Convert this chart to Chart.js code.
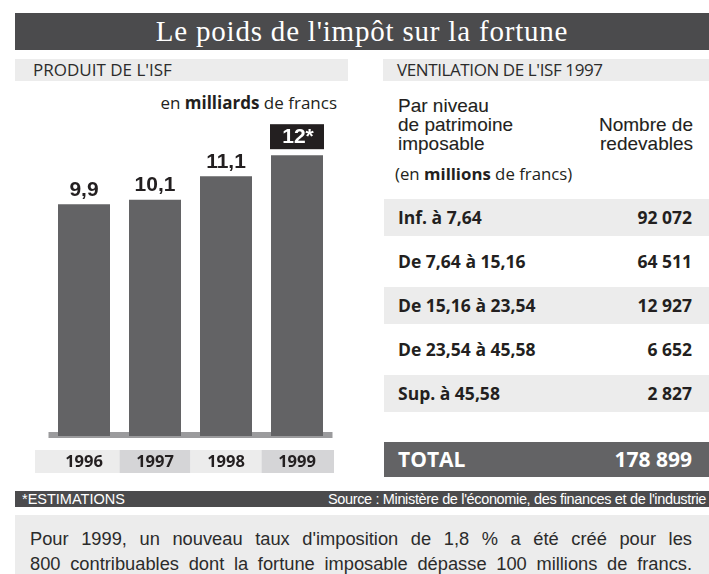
<!DOCTYPE html>
<html lang="fr">
<head>
    <meta charset="UTF-8">
    <title>Le poids de l'impôt sur la fortune</title>
    <script src="https://cdn.jsdelivr.net/npm/chart.js"></script>
    <style>
        body { margin: 0; width: 709px; height: 574px; position: relative; overflow: hidden; background: #fff; color: #231f20; }
        .abs { position: absolute; }
        #titre { left: 15px; top: 13px; width: 694px; height: 37px; background: #4b4b4d; color: #fff;
                 font: 29px "Liberation Serif", serif; letter-spacing: 0.8px; text-align: center; line-height: 37px; }
        .sous { top: 59px; height: 22px; background: #ececec; font: 17px "Open Sans", sans-serif; line-height: 22px; color: #2b2b2b; }
        #unite { right: 372px; top: 91px; font: 17px "Open Sans", sans-serif; }
        .entete { font: 19px "Liberation Sans", sans-serif; line-height: 19px; -webkit-text-stroke: 0.1px #231f20; }
        .ligne { left: 384px; width: 325px; height: 37px; font: bold 17.5px "Open Sans", sans-serif; line-height: 37px; }
        .ligne span.n { position: absolute; right: 17px; }
        .ligne span.t { position: absolute; left: 14px; }
        #total { background: #636365; color: #fff; font-size: 21px; height: 35px; line-height: 35px; }
        #bande { left: 15px; top: 491px; width: 694px; height: 16px; background: #4b4b4d; color: #fff;
                 font: 14.5px "Liberation Sans Narrow", "Liberation Sans", sans-serif; line-height: 17px; }
        #note { left: 15px; top: 515px; width: 694px; height: 59px; background: #ececec; color: #2b2b2b;
                font: 18.3px "Liberation Sans", sans-serif; }
        #note div { position: absolute; left: 15px; width: 662px; text-align: justify; text-align-last: justify; white-space: nowrap; }
    </style>
</head>
<body>
    <div id="titre" class="abs">Le poids de l'impôt sur la fortune</div>
    <div class="abs sous" style="left:15px;width:333px"><span style="margin-left:18px">PRODUIT DE L'ISF</span></div>
    <div class="abs sous" style="left:383px;width:326px"><span style="margin-left:14px;letter-spacing:-0.4px">VENTILATION DE L'ISF 1997</span></div>
    <div id="unite" class="abs">en <b>milliards</b> de francs</div>

    <div class="abs entete" style="left:398px;top:96px">Par niveau<br>de patrimoine<br>imposable</div>
    <div class="abs entete" style="right:16px;top:115px;text-align:right">Nombre de<br>redevables</div>
    <div class="abs" style="left:395px;top:162px;font:16.8px 'Open Sans',sans-serif">(en <b>millions</b> de francs)</div>
    <div id="tableau"></div>

    <div id="bande" class="abs"><span style="position:absolute;left:7px">*ESTIMATIONS</span><span style="position:absolute;right:3px;letter-spacing:-0.35px">Source : Ministère de l'économie, des finances et de l'industrie</span></div>
    <div id="note" class="abs">
        <div style="top:13px">Pour 1999, un nouveau taux d'imposition de 1,8 % a été créé pour les</div>
        <div style="top:38px">800 contribuables dont la fortune imposable dépasse 100 millions de francs.</div>
    </div>

    <div class="abs" style="left:0;top:0;width:360px;height:574px">
        <canvas id="isfChart" width="360" height="574"></canvas>
    </div>

    <script>
        // Produit de l'ISF, en milliards de francs
        const annees = ['1996', '1997', '1998', '1999'];
        const produit = [9.9, 10.1, 11.1, 12];
        const etiquettes = ['9,9', '10,1', '11,1', '12*'];
        const estimation = [false, false, false, true];

        // Ventilation de l'ISF 1997
        const tranches = ['Inf. à 7,64', 'De 7,64 à 15,16', 'De 15,16 à 23,54', 'De 23,54 à 45,58', 'Sup. à 45,58'];
        const redevables = [92072, 64511, 12927, 6652, 2827];
        const totalRedevables = 178899;

        function fr(n) {
            return String(n).replace(/\B(?=(\d{3})+(?!\d))/g, ' ');
        }

        // tableau de droite
        const tab = document.getElementById('tableau');
        tranches.forEach((t, i) => {
            const d = document.createElement('div');
            d.className = 'abs ligne';
            d.style.top = (199 + i * 44) + 'px';
            d.style.background = i % 2 === 0 ? '#ececec' : 'transparent';
            d.innerHTML = '<span class="t">' + t + '</span><span class="n">' + fr(redevables[i]) + '</span>';
            tab.appendChild(d);
        });
        const tot = document.createElement('div');
        tot.className = 'abs ligne';
        tot.id = 'total';
        tot.style.top = '442px';
        tot.innerHTML = '<span class="t">TOTAL</span><span class="n">' + fr(totalRedevables) + '</span>';
        tab.appendChild(tot);

        const decor = {
            id: 'decor',
            beforeDatasetsDraw(chart) {
                const ctx = chart.ctx;
                const a = chart.chartArea;
                ctx.save();
                ctx.fillStyle = '#9b9b9d';
                ctx.fillRect(a.left, a.bottom - 4, a.right - a.left, 6);
                ctx.restore();
            },
            afterDatasetsDraw(chart) {
                const ctx = chart.ctx;
                const meta = chart.getDatasetMeta(0);
                const xs = chart.scales.x;
                ctx.save();
                ctx.textAlign = 'center';
                ctx.textBaseline = 'middle';
                meta.data.forEach((bar, i) => {
                    ctx.font = 'bold 21px "Liberation Sans", Arial, sans-serif';
                    if (estimation[i]) {
                        ctx.fillStyle = '#231f20';
                        ctx.fillRect(bar.x - 27, bar.y - 31, 54, 25);
                        ctx.fillStyle = '#ffffff';
                        ctx.fillText(etiquettes[i], bar.x + 1, bar.y - 18);
                    } else {
                        ctx.fillStyle = '#231f20';
                        ctx.fillText(etiquettes[i], bar.x, bar.y - 14);
                    }
                });
                // cases des années
                const pas = xs.getPixelForValue(1) - xs.getPixelForValue(0);
                annees.forEach((an, i) => {
                    const cx = xs.getPixelForValue(i);
                    let g = cx - pas / 2, d = cx + pas / 2;
                    if (i === 0) g = 35;
                    if (i === annees.length - 1) d = 334;
                    ctx.fillStyle = i % 2 === 0 ? '#ececec' : '#d5d5d7';
                    ctx.fillRect(g, 450, d - g, 23);
                    ctx.fillStyle = '#231f20';
                    ctx.font = 'bold 16.5px "Open Sans", sans-serif';
                    ctx.fillText(an, cx, 462);
                });
                ctx.restore();
            }
        };

        new Chart(document.getElementById('isfChart'), {
            type: 'bar',
            data: {
                labels: annees,
                datasets: [{
                    data: produit,
                    backgroundColor: '#636365',
                    borderWidth: 0,
                    barPercentage: 52 / 71,
                    categoryPercentage: 1
                }]
            },
            options: {
                responsive: false,
                animation: false,
                devicePixelRatio: 1,
                layout: { padding: { left: 48.5, right: 27.5, top: 131.8, bottom: 138 } },
                plugins: { legend: { display: false }, tooltip: { enabled: false } },
                scales: {
                    x: { display: false },
                    y: { display: false, min: 0, max: 13 }
                }
            },
            plugins: [decor]
        });
    </script>
</body>
</html>
